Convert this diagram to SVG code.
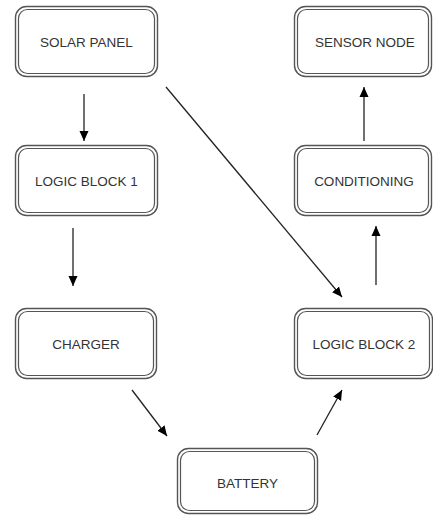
<svg xmlns="http://www.w3.org/2000/svg" width="433" height="515" viewBox="0 0 433 515">
<style>
.o{fill:#fff;stroke:#555;stroke-width:1.4}
.i{fill:none;stroke:#555;stroke-width:1.2}
.t{font-family:"Liberation Sans",Arial,sans-serif;font-size:13.5px;fill:#333;text-anchor:middle;dominant-baseline:central}
.c{stroke:#222;stroke-width:1.3;fill:none;marker-end:url(#ah)}
</style>
<defs>
<marker id="ah" viewBox="0 0 10 10" refX="10" refY="5" markerWidth="10" markerHeight="10" markerUnits="userSpaceOnUse" orient="auto">
<path d="M0,0.5 L10,5 L0,9.5 Z" fill="#000"/>
</marker>
</defs>
<rect width="433" height="515" fill="#fff"/>
<g id="solar"><rect class="o" x="15.5" y="6.5" width="142" height="70" rx="11"/><rect class="i" x="18.5" y="9.5" width="136" height="64" rx="9"/><text class="t" x="86.5" y="42">SOLAR PANEL</text></g>
<g id="sensor"><rect class="o" x="294.5" y="6.5" width="137" height="70" rx="11"/><rect class="i" x="297.5" y="9.5" width="131" height="64" rx="9"/><text class="t" x="365" y="42">SENSOR NODE</text></g>
<g id="logic1"><rect class="o" x="15.5" y="145.5" width="142" height="70" rx="11"/><rect class="i" x="18.5" y="148.5" width="136" height="64" rx="9"/><text class="t" x="86.5" y="181">LOGIC BLOCK 1</text></g>
<g id="conditioning"><rect class="o" x="294.5" y="145.5" width="137" height="70" rx="11"/><rect class="i" x="297.5" y="148.5" width="131" height="64" rx="9"/><text class="t" x="364" y="181">CONDITIONING</text></g>
<g id="charger"><rect class="o" x="15.5" y="308.5" width="141" height="70" rx="11"/><rect class="i" x="18.5" y="311.5" width="135" height="64" rx="9"/><text class="t" x="86" y="344">CHARGER</text></g>
<g id="logic2"><rect class="o" x="294.5" y="308.5" width="138" height="70" rx="11"/><rect class="i" x="297.5" y="311.5" width="132" height="64" rx="9"/><text class="t" x="364" y="344">LOGIC BLOCK 2</text></g>
<g id="battery"><rect class="o" x="177.5" y="448.5" width="140" height="65" rx="11"/><rect class="i" x="180.5" y="451.5" width="134" height="59" rx="9"/><text class="t" x="247.5" y="483">BATTERY</text></g>
<g id="connectors">
<line class="c" x1="84" y1="94" x2="84" y2="141"/>
<line class="c" x1="73" y1="228" x2="73" y2="286"/>
<line class="c" x1="166" y1="87" x2="342" y2="297"/>
<line class="c" x1="132" y1="390" x2="167" y2="436"/>
<line class="c" x1="317" y1="435" x2="342" y2="390"/>
<line class="c" x1="376" y1="285" x2="376" y2="226"/>
<line class="c" x1="364" y1="141" x2="364" y2="87"/>
</g>
</svg>
